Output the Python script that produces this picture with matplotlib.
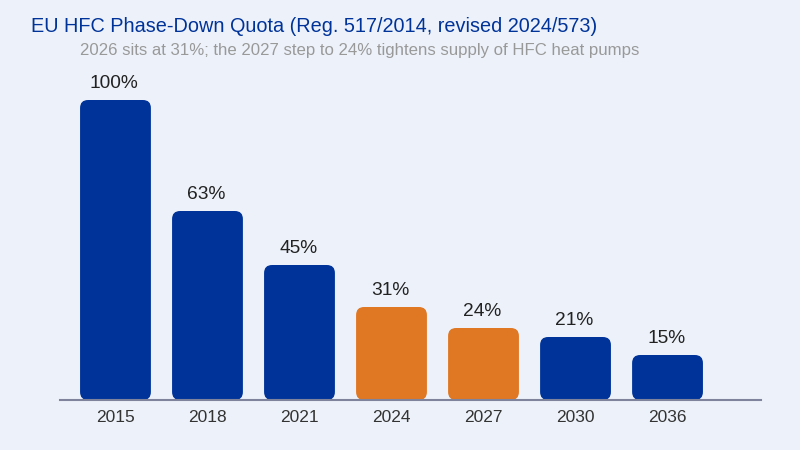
import matplotlib
matplotlib.use("Agg")
import matplotlib.pyplot as plt
from matplotlib.patches import FancyBboxPatch

years = ["2015", "2018", "2021", "2024", "2027", "2030", "2036"]
quota = [100, 63, 45, 31, 24, 21, 15]
highlight = [False, False, False, True, True, False, False]
title = "EU HFC Phase-Down Quota (Reg. 517/2014, revised 2024/573)"
subtitle = "2026 sits at 31%; the 2027 step to 24% tightens supply of HFC heat pumps"

BLUE = "#003399"
ORANGE = "#E07722"
BG = "#EDF2FA"

plt.rcParams['font.family'] = ['Liberation Sans', 'DejaVu Sans']

fig = plt.figure(figsize=(8, 4.5), dpi=100, facecolor=BG)
ax = fig.add_axes([60/800, 50/450, 701/800, 330/450])
ax.set_facecolor(BG)

x = list(range(len(years)))
width = 0.77
bars = ax.bar(x, quota, width=width, color="none")
ax.set_xlim(-0.603, 7.016)
ax.set_ylim(0, 110)

px_x = 1/92.0
px_y = 110/330.0
r = 8 * px_x
aspect = px_y / px_x
for b, h in zip(bars, highlight):
    bx, by = b.get_x(), b.get_y()
    bw, bh = b.get_width(), b.get_height()
    p = FancyBboxPatch((bx, by), bw, bh,
                       boxstyle=f"round,pad=0,rounding_size={r}",
                       mutation_aspect=aspect,
                       facecolor=ORANGE if h else BLUE, edgecolor="none", zorder=2)
    ax.add_patch(p)
    b.remove()

for xi, v in zip(x, quota):
    ax.annotate(f"{v}%", (xi, v), xytext=(-1, 5.5), textcoords="offset points",
                ha="center", va="bottom", fontsize=13.8, color="#222222")

for s in ["top", "right", "left"]:
    ax.spines[s].set_visible(False)
ax.spines["bottom"].set_color("#7F849C")
ax.spines["bottom"].set_linewidth(1.5)
ax.spines["bottom"].set_zorder(3)
ax.set_yticks([])
ax.set_xticks(x)
ax.set_xticklabels(years, fontsize=12.5, color="#333333")
ax.tick_params(axis="x", length=0, pad=7.5)

fig.text(31/800, 1 - 27/450, title, fontsize=14.3, color=BLUE, ha="left", va="center")
fig.text(80/800, 1 - 50/450, subtitle, fontsize=12.1, color="#999999", ha="left", va="center")

fig.savefig("out.png", dpi=100, facecolor=BG)
